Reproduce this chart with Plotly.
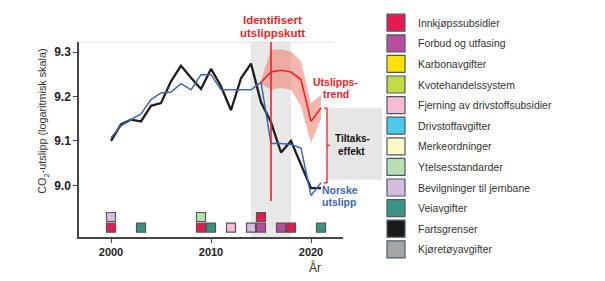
import plotly.graph_objects as go

# ---------------- data ----------------
years = list(range(2000, 2022))
fartsgrenser_line = [9.100, 9.137, 9.148, 9.144, 9.179, 9.185, 9.234, 9.269, 9.242, 9.217, 9.262,
                     9.223, 9.169, 9.241, 9.274, 9.187, 9.142, 9.074, 9.100, 9.045, 8.994, 8.994]
norske_utslipp = [9.107, 9.134, 9.148, 9.161, 9.193, 9.208, 9.210, 9.229, 9.215, 9.249, 9.249,
                  9.215, 9.215, 9.215, 9.215, 9.232, 9.094, 9.094, 9.092, 9.084, 8.977, 9.006]

trend_years = list(range(2015, 2022))
trend = [9.232, 9.255, 9.259, 9.255, 9.238, 9.144, 9.174]
trend_upper = [9.236, 9.305, 9.306, 9.301, 9.279, 9.185, 9.204]
trend_lower = [9.228, 9.215, 9.219, 9.215, 9.178, 9.095, 9.150]

policy_names = ["Innkjøpssubsidier", "Forbud og utfasing", "Karbonavgifter", "Kvotehandelssystem",
                "Fjerning av drivstoffsubsidier", "Drivstoffavgifter", "Merkeordninger",
                "Ytelsesstandarder", "Bevilgninger til jernbane", "Veiavgifter", "Fartsgrenser",
                "Kjøretøyavgifter"]
policy_colors = ["#E51A4F", "#B84E9E", "#FFE100", "#C3D948", "#F7BDD5", "#4FC8EC", "#FFF8C2",
                 "#B8E0B2", "#D4BDDF", "#3A9485", "#1A1A1A", "#A6A6A6"]

event_years = [2000, 2003, 2009, 2010, 2012, 2014, 2015, 2017, 2018, 2021, 2000, 2009, 2015]
event_policies = ["Innkjøpssubsidier", "Veiavgifter", "Innkjøpssubsidier", "Veiavgifter",
                  "Fjerning av drivstoffsubsidier", "Bevilgninger til jernbane", "Forbud og utfasing",
                  "Forbud og utfasing", "Innkjøpssubsidier", "Veiavgifter",
                  "Bevilgninger til jernbane", "Ytelsesstandarder", "Innkjøpssubsidier"]
event_rows = [0, 0, 0, 0, 0, 0, 0, 0, 0, 0, 1, 1, 1]

shade_start, shade_end = 2014, 2018
cut_year = 2016

# ---------------- layout helpers ----------------
W, H = 605, 281
L, R, T, B = 79, 343, 42.3, 237.3
XR = [1996.8, 2023.2]
YR = [8.884, 9.3225]
ROW_Y = [8.905, 8.929]


def px(x):
    return (x - L) / (R - L)


def py(y):
    return (B - y) / (B - T)


FONT = "Liberation Sans, Arial, sans-serif"
RED = "#E8242B"
BLUE = "#3B67B4"

fig = go.Figure()

# uncertainty band
fig.add_trace(go.Scatter(
    x=trend_years + trend_years[::-1], y=trend_upper + trend_lower[::-1],
    fill="toself", fillcolor="rgba(238,110,92,0.5)", line=dict(width=0),
    mode="lines", hoverinfo="skip", showlegend=False))

fig.add_trace(go.Scatter(x=years, y=fartsgrenser_line, mode="lines",
                         line=dict(color="#1E1E1E", width=2.3), showlegend=False))
fig.add_trace(go.Scatter(x=years, y=norske_utslipp, mode="lines",
                         line=dict(color=BLUE, width=1.5), showlegend=False))
fig.add_trace(go.Scatter(x=trend_years, y=trend, mode="lines",
                         line=dict(color=RED, width=1.6), showlegend=False))

# policy event markers
for name, col in zip(policy_names, policy_colors):
    xs = [y for y, p in zip(event_years, event_policies) if p == name]
    ys = [ROW_Y[r] for r, p in zip(event_rows, event_policies) if p == name]
    if xs:
        fig.add_trace(go.Scatter(x=xs, y=ys, mode="markers", showlegend=False,
                                 marker=dict(symbol="square", size=9, color=col,
                                             line=dict(color="#555555", width=1.2))))

shapes = []
# grey period
shapes.append(dict(type="rect", xref="x", yref="paper", x0=shade_start, x1=shade_end, y0=0, y1=1,
                   fillcolor="#E8E8E8", line=dict(width=0), layer="below"))
# top frame line
shapes.append(dict(type="line", xref="paper", yref="paper", x0=0, x1=px(335), y0=1, y1=1,
                   line=dict(color="#E2E2E2", width=1)))
# red vertical line
shapes.append(dict(type="line", xref="x", yref="y", x0=cut_year, x1=cut_year, y0=8.965, y1=YR[1],
                   line=dict(color=RED, width=1.6)))
# Tiltakseffekt box
shapes.append(dict(type="rect", xref="paper", yref="paper", x0=px(327), x1=px(382),
                   y0=py(180), y1=py(108), fillcolor="#E6E6E6", line=dict(width=0), layer="below"))
# bracket
bx = 2021.6
top, bot = trend[-1], norske_utslipp[-1]
mid = (top + bot) / 2
shapes.append(dict(type="path", xref="x", yref="y",
                   path=f"M {bx-0.3},{top} L {bx},{top} L {bx},{bot} L {bx-0.3},{bot}",
                   line=dict(color=RED, width=1.3)))
shapes.append(dict(type="line", xref="x", yref="y", x0=bx, x1=bx + 0.3, y0=mid, y1=mid,
                   line=dict(color=RED, width=1.3)))

# legend (custom)
annotations = []
row0, step = 23.0, 20.6
for i, (name, col) in enumerate(zip(policy_names, policy_colors)):
    cy = row0 + i * step
    shapes.append(dict(type="rect", xref="paper", yref="paper", x0=px(387), x1=px(405),
                       y0=py(cy + 8.5), y1=py(cy - 8.5), fillcolor=col,
                       line=dict(color="#4D5A66", width=1.2)))
    annotations.append(dict(x=px(416), y=py(cy), xref="paper", yref="paper", text=name,
                            showarrow=False, xanchor="left", yanchor="middle",
                            font=dict(family=FONT, size=10.5, color="#333333")))


def label(text, x, y, color, size, bold=True, xanchor="center"):
    annotations.append(dict(x=px(x), y=py(y), xref="paper", yref="paper", text=text,
                            showarrow=False, xanchor=xanchor, yanchor="middle",
                            font=dict(family=FONT, size=size, color=color,
                                      weight="bold" if bold else "normal")))


label("Identifisert", 272, 20, RED, 11.5)
label("utslippskutt", 272, 33, RED, 11.5)
label("Utslipps-", 335, 82, RED, 10.5)
label("trend", 336, 94, RED, 10.5)
label("Tiltaks-", 352, 139, "#111111", 10)
label("effekt", 351, 152, "#111111", 10)
label("Norske", 340, 190, BLUE, 10.5)
label("utslipp", 339, 202, BLUE, 10.5)
label("År", 315, 268, "#333333", 12, bold=False)

annotations.append(dict(x=px(43), y=py(122), xref="paper", yref="paper",
                        text="CO<sub>2</sub>-utslipp (logaritmisk skala)", textangle=-90,
                        showarrow=False, xanchor="center", yanchor="middle",
                        font=dict(family=FONT, size=10.8, color="#333333")))

fig.update_layout(
    width=W, height=H,
    margin=dict(l=L, r=W - R, t=T, b=H - B, pad=0),
    paper_bgcolor="white", plot_bgcolor="white",
    showlegend=False,
    shapes=shapes, annotations=annotations,
    xaxis=dict(range=XR, tickvals=[2000, 2010, 2020], showgrid=False, zeroline=False,
               showline=True, linecolor="#444444", linewidth=1.5,
               ticks="outside", ticklen=4, tickcolor="#444444", tickwidth=1.2,
               tickfont=dict(family=FONT, size=11, color="#222222", weight="bold")),
    yaxis=dict(range=YR, tickvals=[9.0, 9.1, 9.2, 9.3], tickformat=".1f", showgrid=False,
               zeroline=False, showline=True, linecolor="#444444", linewidth=1.5,
               ticks="outside", ticklen=4, tickcolor="#444444", tickwidth=1.2,
               tickfont=dict(family=FONT, size=12, color="#222222", weight="bold")),
)

fig.write_html("out.html")
